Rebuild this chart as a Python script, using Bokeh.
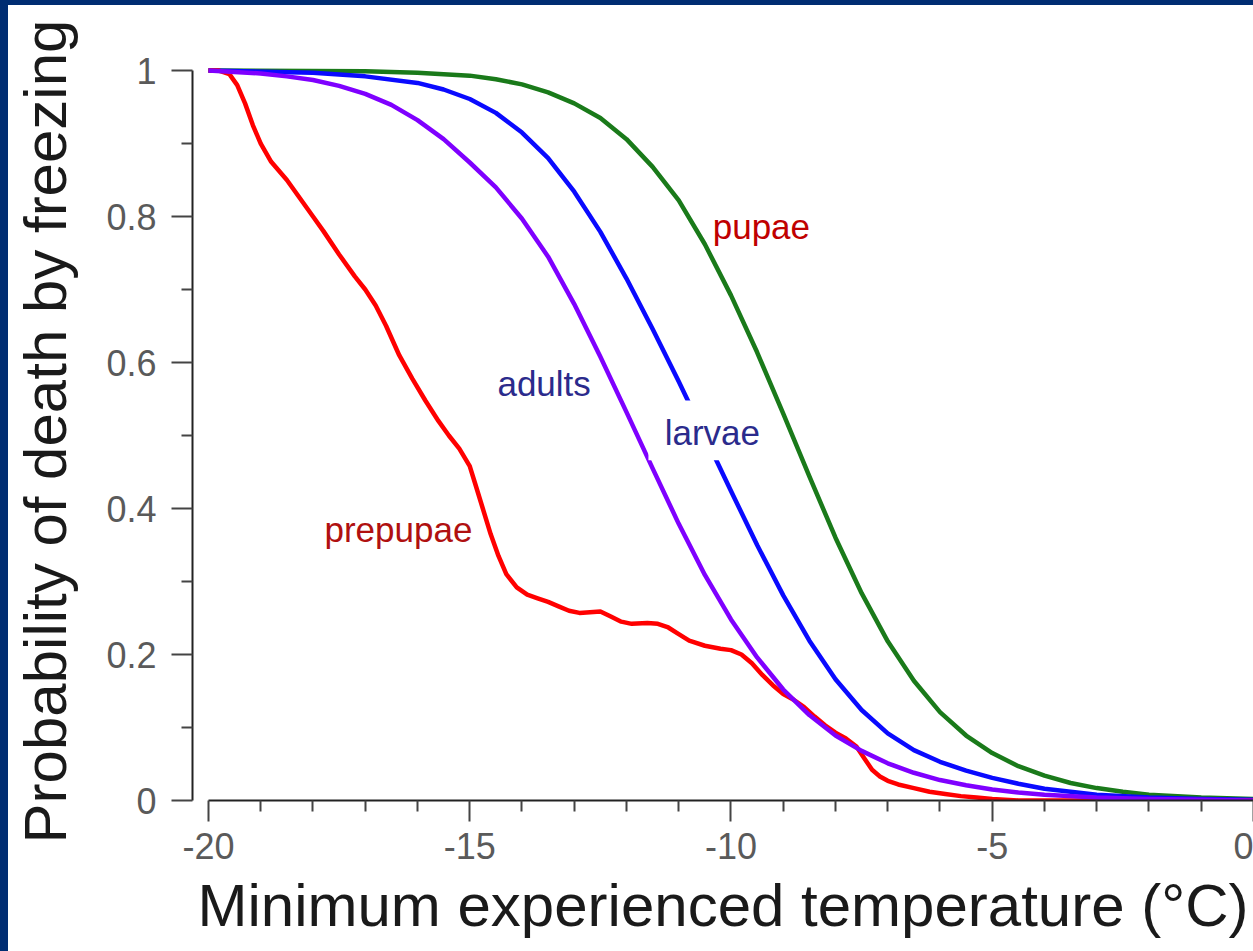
from bokeh.plotting import figure
from bokeh.models import Range1d, FixedTicker, Label, Div, BoxAnnotation
from bokeh.layouts import row, column
from bokeh.embed import file_html
from bokeh.resources import INLINE

# Probability of death by freezing vs. minimum experienced temperature, per life stage
temp_pupae = [-20, -17, -16, -15, -14.5, -14, -13.5, -13, -12.5, -12, -11.5, -11, -10.5,
              -10, -9.5, -9, -8.5, -8, -7.5, -7, -6.5, -6, -5.5, -5, -4.5, -4, -3.5,
              -3, -2.5, -2, -1, 0]
prob_pupae = [1.0, 0.999, 0.997, 0.993, 0.988, 0.981, 0.970, 0.955, 0.935, 0.906, 0.868,
              0.822, 0.762, 0.692, 0.614, 0.530, 0.444, 0.360, 0.284, 0.218, 0.164, 0.121,
              0.089, 0.065, 0.047, 0.034, 0.024, 0.017, 0.012, 0.008, 0.004, 0.002]

temp_larvae = [-20, -18, -17, -16, -15.5, -15, -14.5, -14, -13.5, -13, -12.5, -12, -11.5,
               -11, -10.5, -10, -9.5, -9, -8.5, -8, -7.5, -7, -6.5, -6, -5.5, -5, -4.5,
               -4, -3, -2, -1, 0]
prob_larvae = [1.0, 0.997, 0.992, 0.983, 0.974, 0.961, 0.942, 0.915, 0.880, 0.834, 0.779,
               0.715, 0.646, 0.574, 0.499, 0.424, 0.350, 0.281, 0.219, 0.166, 0.124, 0.092,
               0.069, 0.053, 0.041, 0.031, 0.023, 0.016, 0.008, 0.004, 0.002, 0.001]

temp_adults = [-20, -19, -18.5, -18, -17.5, -17, -16.5, -16, -15.5, -15, -14.5, -14, -13.5,
               -13, -12.5, -12, -11.5, -11, -10.5, -10, -9.5, -9, -8.5, -8, -7.5, -7,
               -6.5, -6, -5.5, -5, -4.5, -4, -3, -2, 0]
prob_adults = [1.0, 0.996, 0.992, 0.987, 0.979, 0.968, 0.953, 0.932, 0.906, 0.874, 0.840,
               0.797, 0.745, 0.680, 0.608, 0.532, 0.455, 0.379, 0.309, 0.248, 0.196, 0.152,
               0.117, 0.089, 0.068, 0.051, 0.038, 0.028, 0.021, 0.015, 0.011, 0.008, 0.004,
               0.002, 0.0]

temp_prepupae = [-20, -19.8, -19.6, -19.45, -19.3, -19.15, -19.0, -18.8, -18.5, -18.25,
                 -18.0, -17.8, -17.5, -17.2, -17.0, -16.8, -16.6, -16.35, -16.1, -15.85,
                 -15.6, -15.4, -15.2, -15.0, -14.9, -14.75, -14.6, -14.45, -14.3, -14.1,
                 -13.9, -13.7, -13.5, -13.3, -13.1, -12.9, -12.7, -12.5, -12.3, -12.1,
                 -11.9, -11.6, -11.4, -11.2, -11.0, -10.8, -10.5, -10.2, -10.0, -9.8,
                 -9.6, -9.4, -9.2, -9.0, -8.8, -8.6, -8.4, -8.2, -8.0, -7.8, -7.6, -7.45,
                 -7.3, -7.15, -7.0, -6.8, -6.5, -6.2, -5.9, -5.6, -5.3, -5.0, -4.5, 0]
prob_prepupae = [1.0, 1.0, 0.995, 0.98, 0.955, 0.925, 0.900, 0.875, 0.850, 0.825,
                 0.800, 0.780, 0.748, 0.718, 0.700, 0.678, 0.650, 0.610, 0.578, 0.548,
                 0.520, 0.500, 0.482, 0.458, 0.435, 0.400, 0.365, 0.335, 0.310, 0.292,
                 0.282, 0.277, 0.272, 0.266, 0.260, 0.257, 0.258, 0.259, 0.252, 0.245,
                 0.242, 0.243, 0.242, 0.237, 0.228, 0.219, 0.212, 0.208, 0.206, 0.200,
                 0.188, 0.172, 0.158, 0.146, 0.138, 0.128, 0.115, 0.103, 0.093, 0.085, 0.074,
                 0.058, 0.042, 0.033, 0.027, 0.022, 0.017, 0.012, 0.009, 0.006, 0.004, 0.002,
                 0.0, 0.0]

x_ticks = [-20, -15, -10, -5, 0]
x_tick_labels = ["-20", "-15", "-10", "-5", "0"]
x_minor = [-19, -18, -17, -16, -14, -13, -12, -11, -9, -8, -7, -6, -4, -3, -2, -1]
y_ticks = [0, 0.2, 0.4, 0.6, 0.8, 1.0]
y_tick_labels = ["0", "0.2", "0.4", "0.6", "0.8", "1"]
y_minor = [0.1, 0.3, 0.5, 0.7, 0.9]

FONT = "Liberation Sans"
NAVY = "#002d72"

p = figure(width=1245, height=946, output_backend="svg", toolbar_location=None,
           x_range=Range1d(-20.306, 0.0), y_range=Range1d(0.0, 1.011),
           min_border_left=184, min_border_right=0, min_border_top=57, min_border_bottom=151,
           background_fill_color="white", border_fill_color="white", margin=0)
p.outline_line_color = None
p.grid.visible = False

# curves
LW = 4.5
p.line(temp_pupae, prob_pupae, line_color="#1a7a1a", line_width=LW, line_join="round")
p.line(temp_larvae, prob_larvae, line_color="#0a0aff", line_width=LW, line_join="round")
p.line(temp_prepupae, prob_prepupae, line_color="#ff0000", line_width=LW, line_join="round")
p.line(temp_adults, prob_adults, line_color="#7f00ff", line_width=LW, line_join="round")

# axes
for ax in (p.xaxis[0], p.yaxis[0]):
    ax.axis_line_color = "#222222"
    ax.axis_line_width = 2
    ax.major_tick_line_color = "#444444"
    ax.minor_tick_line_color = "#444444"
    ax.major_tick_line_width = 2
    ax.minor_tick_line_width = 2
    ax.major_tick_in = 0
    ax.minor_tick_in = 0
    ax.major_tick_out = 21
    ax.minor_tick_out = 11
    ax.major_label_text_font = FONT
    ax.major_label_text_font_size = "36px"
    ax.major_label_text_color = "#5a5a5a"
    ax.axis_label_text_font = FONT
    ax.axis_label_text_font_style = "normal"
    ax.axis_label_text_color = "#1a1a1a"

p.xaxis.ticker = FixedTicker(ticks=x_ticks, minor_ticks=x_minor)
p.xaxis.major_label_overrides = dict(zip(x_ticks, x_tick_labels))
p.xaxis.bounds = (-20, 0)
p.xaxis.axis_label = "Minimum experienced temperature (°C)"
p.xaxis.axis_label_text_font_size = "60px"
p.xaxis.major_label_standoff = 11
p.xaxis.axis_label_standoff = 10

p.yaxis.ticker = FixedTicker(ticks=y_ticks, minor_ticks=y_minor)
p.yaxis.major_label_overrides = dict(zip(y_ticks, y_tick_labels))
p.yaxis.bounds = (0, 1)
p.yaxis.axis_label = "Probability of death by freezing"
p.yaxis.axis_label_text_font_size = "60px"
p.yaxis.major_label_text_align = "center"
p.yaxis.major_label_standoff = 15
p.yaxis.axis_label_standoff = 24

# stage labels
def stage_label(x, y, text, color):
    lab = Label(x=x, y=y, text=text, text_color=color, text_font=FONT,
                text_font_size="35px", text_baseline="alphabetic")
    p.add_layout(lab)
    return lab

stage_label(-10.35, 0.787, "pupae", "#c00000")
stage_label(-14.47, 0.571, "adults", "#2b2b8c")
# white backing box behind the larvae label
p.add_layout(BoxAnnotation(left=-11.58, right=-9.22, bottom=0.466, top=0.548,
                           fill_color="white", fill_alpha=1.0, line_color=None))
stage_label(-11.27, 0.504, "larvae", "#2b2b8c")
stage_label(-17.78, 0.371, "prepupae", "#b01010")

bar_style = {"background-color": NAVY, "padding": "0", "margin": "0"}
left_bar = Div(width=8, height=951, margin=0, styles=bar_style)
top_bar = Div(width=1245, height=5, margin=0, styles=bar_style)
layout = row(left_bar, column(top_bar, p, spacing=0, margin=0), spacing=0, margin=0)

open("out.html", "w").write(file_html(layout, INLINE))
